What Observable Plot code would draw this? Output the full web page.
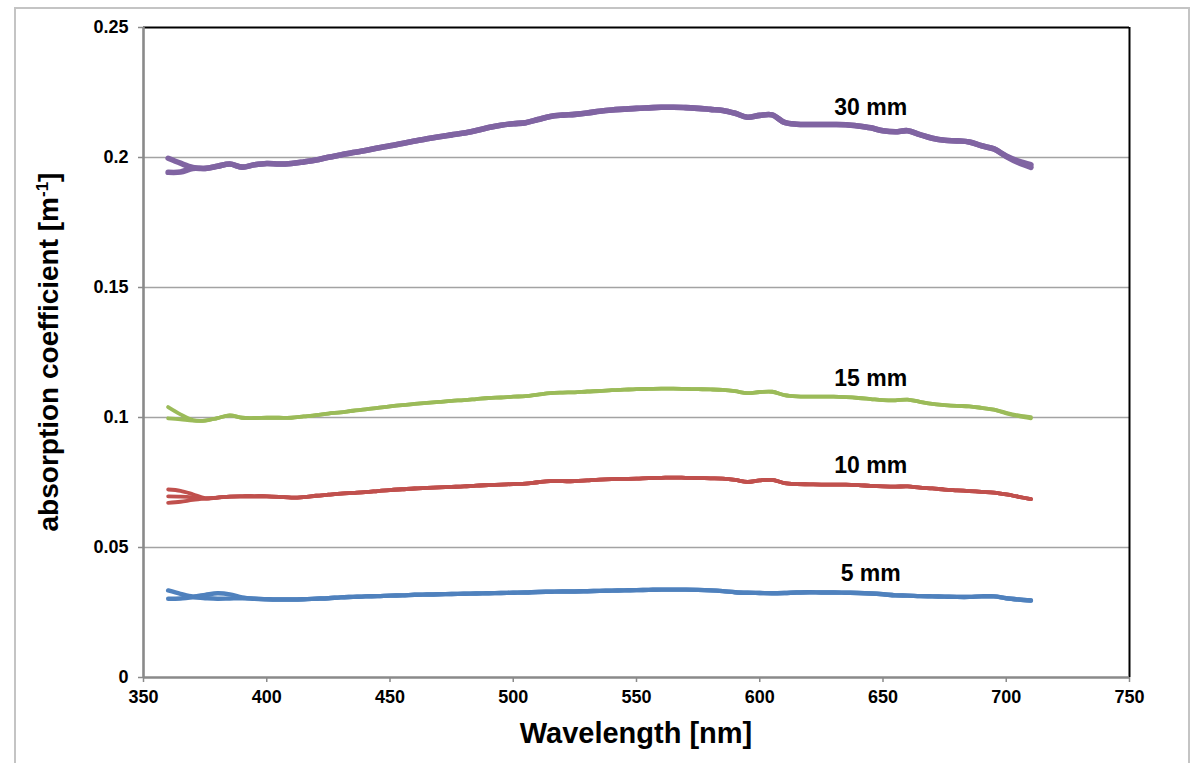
<!DOCTYPE html>
<html>
<head>
<meta charset="utf-8">
<script src="https://cdn.jsdelivr.net/npm/d3@7"></script>
<script src="https://cdn.jsdelivr.net/npm/@observablehq/plot@0.6"></script>
<style>
  body { margin: 0; background: #fff; font-family: "Liberation Sans", Arial, sans-serif; }
  #frame { position: absolute; left: 14px; top: 7px; width: 1176px; height: 780px; border: 2px solid #c4c4c4; box-sizing: border-box; }
  #chart { position: absolute; left: 0; top: 0; }
</style>
</head>
<body>
<div id="frame"></div>
<div id="chart"></div>
<script>
// Wavelength grid of the spectra (nm)
const wavelengths = [
  360, 365, 370, 375, 380, 385, 390, 395, 400, 405,
  410, 415, 420, 425, 430, 435, 440, 445, 450, 455,
  460, 465, 470, 475, 480, 485, 490, 495, 500, 505,
  510, 515, 520, 525, 530, 535, 540, 545, 550, 555,
  560, 565, 570, 575, 580, 585, 590, 595, 600, 605,
  610, 615, 620, 625, 630, 635, 640, 645, 650, 655,
  660, 665, 670, 675, 680, 685, 690, 695, 700, 705,
  710
];

// Absorption coefficient [1/m], repeated runs per sample thickness
const mm30_run1 = [
  0.1997, 0.1978, 0.1962, 0.1958, 0.1966, 0.1975, 0.1963, 0.1972, 0.1977, 0.1975,
  0.1977, 0.1983, 0.1990, 0.2001, 0.2010, 0.2019, 0.2027, 0.2037, 0.2045, 0.2054,
  0.2063, 0.2072, 0.2080, 0.2087, 0.2094, 0.2104, 0.2115, 0.2124, 0.2130, 0.2134,
  0.2146, 0.2158, 0.2163, 0.2166, 0.2171, 0.2178, 0.2183, 0.2186, 0.2189, 0.2191,
  0.2193, 0.2193, 0.2192, 0.2189, 0.2185, 0.2181, 0.2170, 0.2155, 0.2162, 0.2164,
  0.2135, 0.2128, 0.2127, 0.2127, 0.2127, 0.2126, 0.2121, 0.2114, 0.2103, 0.2099,
  0.2103, 0.2088, 0.2074, 0.2066, 0.2064, 0.2060, 0.2045, 0.2033, 0.2004, 0.1980,
  0.1962
];
const mm30_run2 = [
  0.1943, 0.1944, 0.1958, 0.1958, 0.1966, 0.1975, 0.1963, 0.1972, 0.1977, 0.1975,
  0.1977, 0.1983, 0.1990, 0.2001, 0.2010, 0.2019, 0.2027, 0.2037, 0.2045, 0.2054,
  0.2063, 0.2072, 0.2080, 0.2087, 0.2094, 0.2104, 0.2115, 0.2124, 0.2130, 0.2134,
  0.2146, 0.2158, 0.2163, 0.2166, 0.2171, 0.2178, 0.2183, 0.2186, 0.2189, 0.2191,
  0.2193, 0.2193, 0.2192, 0.2189, 0.2185, 0.2181, 0.2170, 0.2155, 0.2162, 0.2164,
  0.2135, 0.2128, 0.2127, 0.2127, 0.2127, 0.2126, 0.2121, 0.2114, 0.2103, 0.2099,
  0.2103, 0.2088, 0.2074, 0.2066, 0.2064, 0.2060, 0.2045, 0.2033, 0.2006, 0.1986,
  0.1972
];
const mm15_run1 = [
  0.1040, 0.1012, 0.0990, 0.0988, 0.0998, 0.1008, 0.0999, 0.0998, 0.0999, 0.0999,
  0.0999, 0.1004, 0.1009, 0.1015, 0.1020, 0.1026, 0.1031, 0.1037, 0.1043, 0.1048,
  0.1052, 0.1056, 0.1060, 0.1064, 0.1067, 0.1071, 0.1075, 0.1077, 0.1080, 0.1082,
  0.1088, 0.1094, 0.1096, 0.1097, 0.1100, 0.1102, 0.1105, 0.1107, 0.1109, 0.1110,
  0.1111, 0.1111, 0.1110, 0.1109, 0.1108, 0.1106, 0.1101, 0.1094, 0.1098, 0.1099,
  0.1086, 0.1081, 0.1080, 0.1080, 0.1080, 0.1078, 0.1075, 0.1071, 0.1067, 0.1066,
  0.1069, 0.1060, 0.1052, 0.1048, 0.1045, 0.1043, 0.1037, 0.1030, 0.1016, 0.1005,
  0.0997
];
const mm15_run2 = [
  0.0997, 0.0993, 0.0988, 0.0988, 0.0998, 0.1008, 0.0999, 0.0998, 0.0999, 0.0999,
  0.0999, 0.1004, 0.1009, 0.1015, 0.1020, 0.1026, 0.1031, 0.1037, 0.1043, 0.1048,
  0.1052, 0.1056, 0.1060, 0.1064, 0.1067, 0.1071, 0.1075, 0.1077, 0.1080, 0.1082,
  0.1088, 0.1094, 0.1096, 0.1097, 0.1100, 0.1102, 0.1105, 0.1107, 0.1109, 0.1110,
  0.1111, 0.1111, 0.1110, 0.1109, 0.1108, 0.1106, 0.1101, 0.1094, 0.1098, 0.1099,
  0.1086, 0.1081, 0.1080, 0.1080, 0.1080, 0.1078, 0.1075, 0.1071, 0.1067, 0.1066,
  0.1069, 0.1060, 0.1052, 0.1048, 0.1045, 0.1043, 0.1037, 0.1030, 0.1018, 0.1008,
  0.1001
];
const mm10_run1 = [
  0.0723, 0.0718, 0.0705, 0.0690, 0.0692, 0.0696, 0.0697, 0.0697, 0.0697, 0.0695,
  0.0692, 0.0694, 0.0699, 0.0703, 0.0707, 0.0710, 0.0713, 0.0717, 0.0721, 0.0724,
  0.0727, 0.0729, 0.0731, 0.0733, 0.0735, 0.0738, 0.0740, 0.0742, 0.0744, 0.0746,
  0.0751, 0.0755, 0.0755, 0.0755, 0.0758, 0.0761, 0.0763, 0.0764, 0.0765, 0.0767,
  0.0768, 0.0769, 0.0768, 0.0767, 0.0766, 0.0765, 0.0760, 0.0752, 0.0758, 0.0760,
  0.0748, 0.0744, 0.0743, 0.0742, 0.0742, 0.0742, 0.0740, 0.0737, 0.0735, 0.0734,
  0.0735, 0.0730, 0.0727, 0.0723, 0.0720, 0.0717, 0.0714, 0.0711, 0.0704, 0.0695,
  0.0686
];
const mm10_run2 = [
  0.0697, 0.0696, 0.0693, 0.0688, 0.0692, 0.0696, 0.0697, 0.0697, 0.0697, 0.0695,
  0.0692, 0.0694, 0.0699, 0.0703, 0.0707, 0.0710, 0.0713, 0.0717, 0.0721, 0.0724,
  0.0727, 0.0729, 0.0731, 0.0733, 0.0735, 0.0738, 0.0740, 0.0742, 0.0744, 0.0746,
  0.0751, 0.0755, 0.0755, 0.0755, 0.0758, 0.0761, 0.0763, 0.0764, 0.0765, 0.0767,
  0.0768, 0.0769, 0.0768, 0.0767, 0.0766, 0.0765, 0.0760, 0.0752, 0.0758, 0.0760,
  0.0748, 0.0744, 0.0743, 0.0742, 0.0742, 0.0742, 0.0740, 0.0737, 0.0735, 0.0734,
  0.0735, 0.0730, 0.0727, 0.0723, 0.0720, 0.0717, 0.0714, 0.0711, 0.0704, 0.0695,
  0.0686
];
const mm10_run3 = [
  0.0672, 0.0676, 0.0683, 0.0688, 0.0692, 0.0696, 0.0697, 0.0697, 0.0697, 0.0695,
  0.0692, 0.0694, 0.0699, 0.0703, 0.0707, 0.0710, 0.0713, 0.0717, 0.0721, 0.0724,
  0.0727, 0.0729, 0.0731, 0.0733, 0.0735, 0.0738, 0.0740, 0.0742, 0.0744, 0.0746,
  0.0751, 0.0755, 0.0755, 0.0755, 0.0758, 0.0761, 0.0763, 0.0764, 0.0765, 0.0767,
  0.0768, 0.0769, 0.0768, 0.0767, 0.0766, 0.0765, 0.0760, 0.0752, 0.0758, 0.0760,
  0.0748, 0.0744, 0.0743, 0.0742, 0.0742, 0.0742, 0.0740, 0.0737, 0.0735, 0.0734,
  0.0735, 0.0730, 0.0727, 0.0723, 0.0720, 0.0717, 0.0714, 0.0711, 0.0704, 0.0695,
  0.0686
];
const mm5_run1 = [
  0.0335, 0.0322, 0.0312, 0.0318, 0.0324, 0.0320, 0.0308, 0.0303, 0.0301, 0.0300,
  0.0300, 0.0301, 0.0303, 0.0305, 0.0308, 0.0310, 0.0312, 0.0313, 0.0315, 0.0316,
  0.0318, 0.0319, 0.0320, 0.0321, 0.0322, 0.0323, 0.0324, 0.0325, 0.0326, 0.0327,
  0.0329, 0.0330, 0.0331, 0.0331, 0.0332, 0.0333, 0.0334, 0.0335, 0.0336, 0.0337,
  0.0338, 0.0338, 0.0338, 0.0337, 0.0335, 0.0332, 0.0328, 0.0326, 0.0325, 0.0324,
  0.0325, 0.0327, 0.0328, 0.0327, 0.0327, 0.0326, 0.0325, 0.0323, 0.0320, 0.0316,
  0.0315, 0.0313, 0.0312, 0.0311, 0.0310, 0.0310, 0.0312, 0.0312, 0.0305, 0.0300,
  0.0296
];
const mm5_run2 = [
  0.0303, 0.0304, 0.0308, 0.0305, 0.0303, 0.0304, 0.0305, 0.0303, 0.0301, 0.0300,
  0.0300, 0.0301, 0.0303, 0.0305, 0.0308, 0.0310, 0.0312, 0.0313, 0.0315, 0.0316,
  0.0318, 0.0319, 0.0320, 0.0321, 0.0322, 0.0323, 0.0324, 0.0325, 0.0326, 0.0327,
  0.0329, 0.0330, 0.0331, 0.0331, 0.0332, 0.0333, 0.0334, 0.0335, 0.0336, 0.0337,
  0.0338, 0.0338, 0.0338, 0.0337, 0.0335, 0.0332, 0.0328, 0.0326, 0.0325, 0.0324,
  0.0325, 0.0327, 0.0328, 0.0327, 0.0327, 0.0326, 0.0325, 0.0323, 0.0320, 0.0316,
  0.0315, 0.0313, 0.0312, 0.0311, 0.0310, 0.0310, 0.0312, 0.0312, 0.0305, 0.0300,
  0.0296
];

// Sample thicknesses, colours and their runs
const seriesNames = ["30 mm", "15 mm", "10 mm", "5 mm"];
const seriesColors = ["#8064A2", "#9BBB59", "#C0504D", "#4F81BD"];
const seriesWidths = [5.6, 3.8, 3.8, 4.4];
const seriesRuns = [[mm30_run1, mm30_run2], [mm15_run1, mm15_run2], [mm10_run1, mm10_run2, mm10_run3], [mm5_run1, mm5_run2]];

// Axis ticks
const xTicks = [350, 400, 450, 500, 550, 600, 650, 700, 750];
const yTicks = [0, 0.05, 0.1, 0.15, 0.2, 0.25];
const gridTicks = [0.05, 0.1, 0.15, 0.2];

// Wavelength where each curve is labelled
const labelWavelength = 645;

// Tidy rows for the line marks
const rows = [];
seriesNames.forEach((name, i) => {
  seriesRuns[i].forEach((run, r) => {
    run.forEach((v, k) => rows.push({series: name, run: `${name} #${r + 1}`, wl: wavelengths[k], v}));
  });
});

const labelIndex = wavelengths.indexOf(labelWavelength);
const labels = seriesNames.map((name, i) => ({series: name, wl: labelWavelength, v: seriesRuns[i][0][labelIndex]}));

const font = "'Liberation Sans', Arial, sans-serif";

const lineMarks = seriesNames.map((name, i) =>
  Plot.line(rows.filter(d => d.series === name), {
    x: "wl", y: "v", z: "run",
    stroke: seriesColors[i], strokeWidth: seriesWidths[i],
    strokeLinejoin: "round", strokeLinecap: "round", curve: "catmull-rom"
  })
);

const chart = Plot.plot({
  width: 1193,
  height: 763,
  marginLeft: 143,
  marginRight: 64,
  marginTop: 27,
  marginBottom: 86,
  style: {fontFamily: font, fontSize: "18px", fontWeight: "bold", color: "#000", background: "transparent", overflow: "visible"},
  x: {domain: [350, 750]},
  y: {domain: [0, 0.25]},
  marks: [
    Plot.ruleY(gridTicks, {stroke: "#a3a3a3", strokeWidth: 1.3}),
    Plot.ruleY([0.25], {stroke: "#000", strokeWidth: 2}),
    Plot.ruleX([750], {stroke: "#000", strokeWidth: 2}),
    Plot.axisX({ticks: xTicks, tickFormat: d => String(d), tickSize: 5, tickPadding: 8, stroke: "#8a8a8a", strokeWidth: 1.5, label: null, fill: "#000"}),
    Plot.axisY({ticks: yTicks, tickFormat: d => String(d), tickSize: 5, tickPadding: 10, stroke: "#8a8a8a", strokeWidth: 1.5, label: null, fill: "#000"}),
    Plot.ruleX([350], {stroke: "#8a8a8a", strokeWidth: 2.6}),
    Plot.ruleY([0], {stroke: "#8a8a8a", strokeWidth: 2.6}),
    ...lineMarks,
    Plot.text(labels, {x: "wl", y: "v", text: "series", dy: -20, fontSize: 23, fontWeight: "bold", fill: "#000", fontFamily: font})
  ]
});

document.getElementById("chart").appendChild(chart);

// Axis titles, with the superscript in the unit
const svg = d3.select(chart);
const yTitle = svg.append("text")
  .attr("transform", "translate(58,352) rotate(-90)")
  .attr("text-anchor", "middle")
  .attr("font-family", font)
  .attr("font-size", 28)
  .attr("font-weight", "bold")
  .attr("fill", "#000");
yTitle.append("tspan").text("absorption coefficient [m");
yTitle.append("tspan").attr("dy", -10).attr("font-size", 17).text("-1");
yTitle.append("tspan").attr("dy", 10).text("]");

svg.append("text")
  .attr("x", 636)
  .attr("y", 743)
  .attr("text-anchor", "middle")
  .attr("font-family", font)
  .attr("font-size", 29)
  .attr("font-weight", "bold")
  .attr("fill", "#000")
  .text("Wavelength [nm]");
</script>
</body>
</html>
